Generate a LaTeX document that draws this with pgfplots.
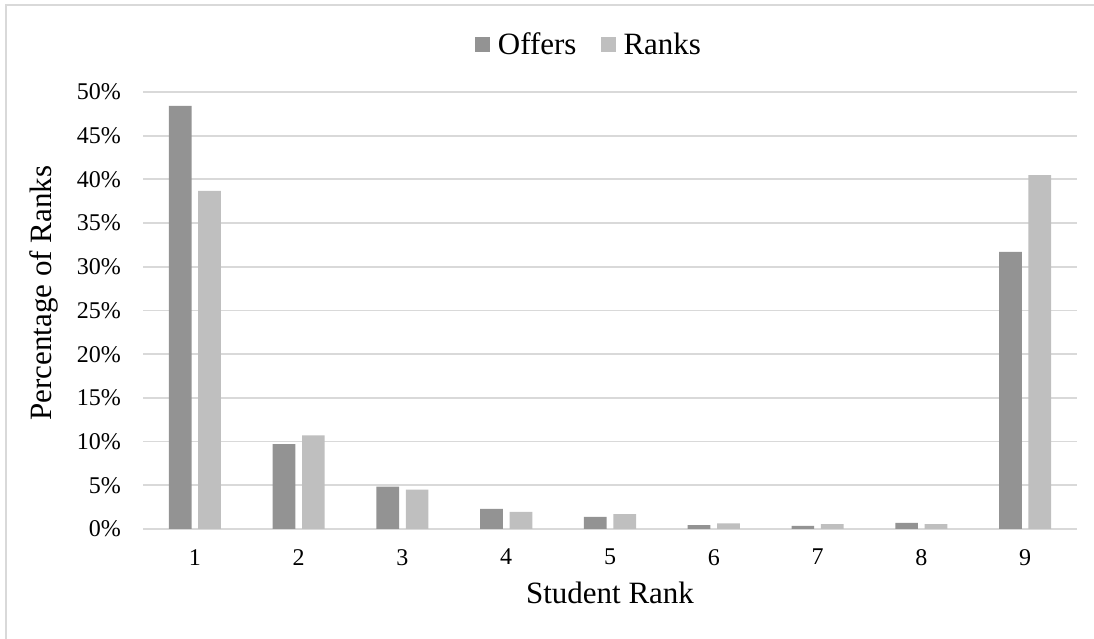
\documentclass[border=0pt]{standalone}
\usepackage{pgfplots}
\pgfplotsset{compat=1.18}
\usepackage{fontspec}
\setmainfont{Liberation Serif}
\definecolor{offc}{HTML}{939393}
\definecolor{rankc}{HTML}{BFBFBF}
\definecolor{gridc}{HTML}{D9D9D9}
\pgfplotstableread{
x offers ranks
1 48.4 38.7
2 9.7 10.7
3 4.85 4.5
4 2.3 1.95
5 1.4 1.7
6 0.45 0.65
7 0.35 0.55
8 0.7 0.55
9 31.7 40.5
}\datatable
\begin{document}
\begin{tikzpicture}
\useasboundingbox (0pt,0pt) rectangle (1094pt,639pt);
\draw[gridc, line width=2pt] (5.5pt,0pt) -- (5.5pt,633.5pt) -- (1094pt,633.5pt);
\begin{axis}[
  at={(143pt,110pt)}, anchor=south west,
  width=934pt, height=437pt, scale only axis,
  xmin=0.5, xmax=9.5, ymin=0, ymax=50,
  xtick={1,...,9}, ytick={0,5,...,50},
  major tick length=0pt,
  axis line style={draw=none},
  ymajorgrids, grid style={gridc, line width=1.8pt},
  /pgf/number format/assume math mode=true,
  yticklabel={\pgfmathprintnumber{\tick}\%},
  ticklabel style={font=\fontsize{24}{28}\selectfont},
  yticklabel style={inner sep=0pt, anchor=east, xshift=-22pt},
  xticklabel style={inner sep=0pt, anchor=north, yshift=-20pt},
  xlabel={Student Rank},
  ylabel={Percentage of Ranks},
  label style={font=\fontsize{31}{36}\selectfont},
  xlabel style={at={(axis description cs:0.5,-0.146)}, anchor=center},
  ylabel style={at={(axis description cs:-0.106,0.54)}, anchor=center, rotate=0},
  legend style={at={(axis description cs:0.4775,1.108)}, anchor=center, draw=none,
    font=\fontsize{31}{36}\selectfont, legend columns=2,
    /tikz/every even column/.append style={column sep=22pt}},
  legend cell align=left,
  ybar, bar width=22.7pt,
  axis on top=false,
]
\addplot[fill=offc, draw=none, bar shift=-14.7pt,
  legend image code/.code={\fill[offc] (0pt,-7.5pt) rectangle (15pt,7.5pt);\path (21pt,0pt);}]
  table[x=x, y=offers] {\datatable};
\addlegendentry{Offers}
\addplot[fill=rankc, draw=none, bar shift=14.7pt,
  legend image code/.code={\fill[rankc] (0pt,-7.5pt) rectangle (15pt,7.5pt);\path (21pt,0pt);}]
  table[x=x, y=ranks] {\datatable};
\addlegendentry{Ranks}
\end{axis}
\end{tikzpicture}
\end{document}
